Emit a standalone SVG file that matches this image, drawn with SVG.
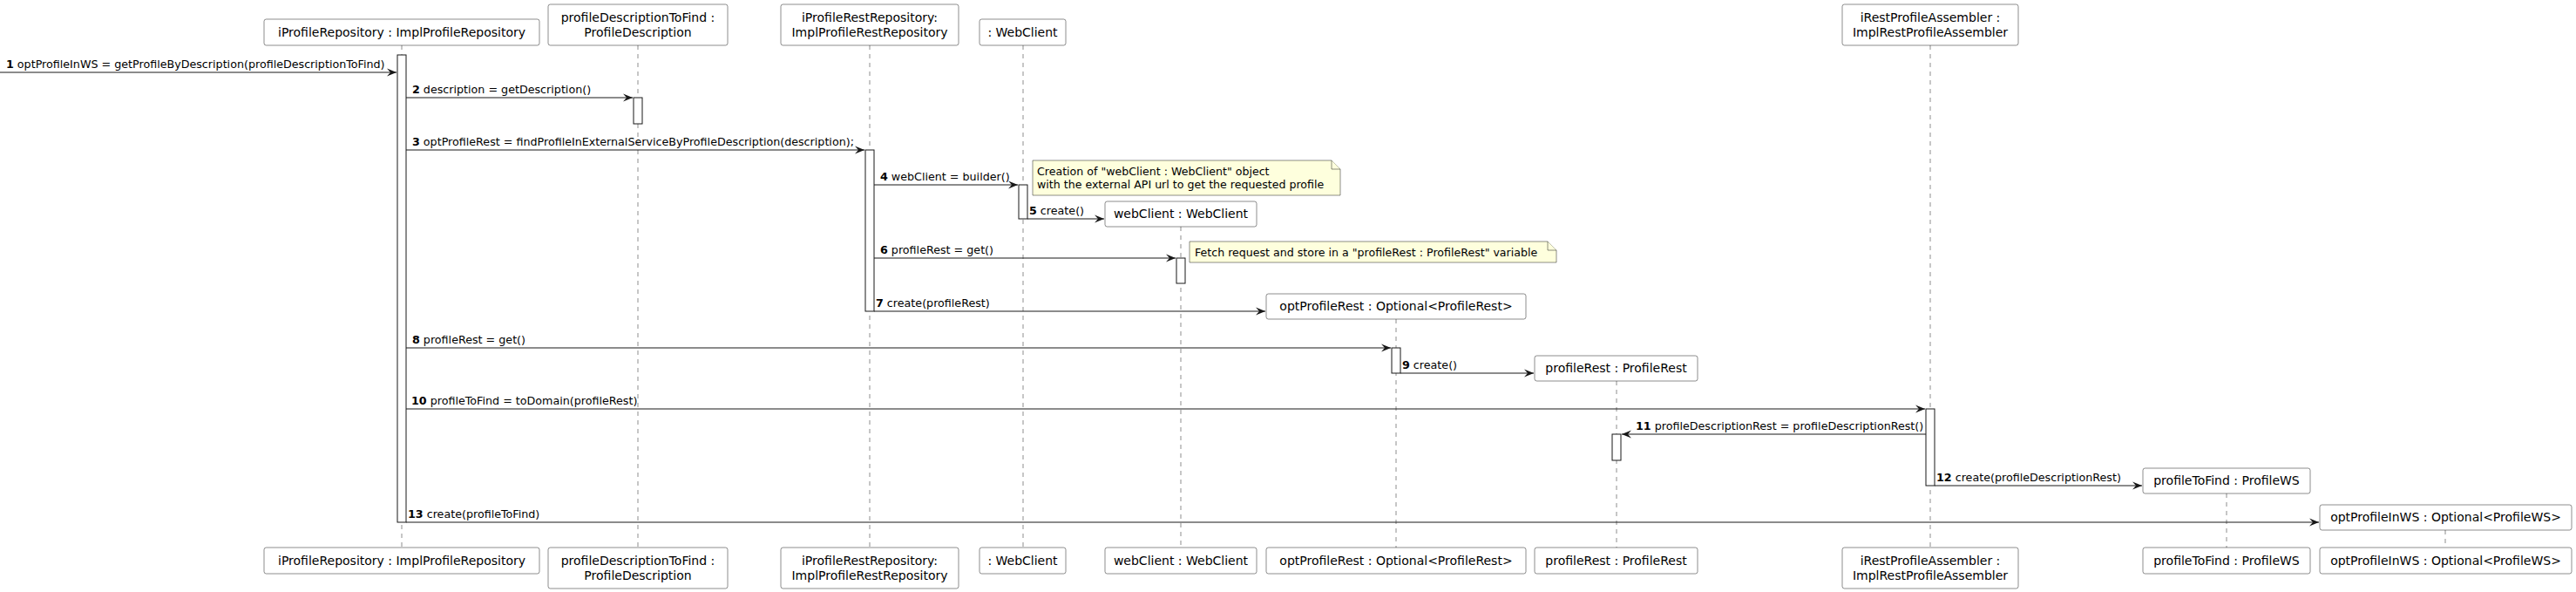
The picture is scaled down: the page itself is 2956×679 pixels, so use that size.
<svg xmlns="http://www.w3.org/2000/svg" width="2956" height="679" viewBox="0 0 2956 679">
<style>
text{font-family:"DejaVu Sans","Liberation Sans",sans-serif;fill:#000}
.p{font-size:14px;text-anchor:middle}
.m{font-size:12.7px}
.n{font-size:12.6px}
.box{fill:#fff;stroke:#181818;stroke-width:0.5}
.life{stroke:#181818;stroke-width:0.5;stroke-dasharray:5,5;fill:none}
.act{fill:#fff;stroke:#181818;stroke-width:1}
.msg{stroke:#181818;stroke-width:1;fill:none;marker-end:url(#ah)}
.note{fill:#FEFFDD;stroke:#181818;stroke-width:0.5}
.b{font-weight:bold}
</style>
<defs>
<marker id="ah" markerWidth="12" markerHeight="10" refX="11" refY="5" orient="auto" markerUnits="userSpaceOnUse"><path d="M0,0.5 L11,5 L0,9.5 L4,5 Z" fill="#181818"/></marker>
</defs>
<rect width="2956" height="679" fill="#fff"/>

<g id="iProfileRepository">
<line class="life" x1="461" y1="52" x2="461" y2="628"/>
<rect class="box" x="303" y="22" width="316" height="30" rx="2.5"/>
<text class="p" x="461" y="42">iProfileRepository : ImplProfileRepository</text>
<rect class="box" x="303" y="628" width="316" height="30" rx="2.5"/>
<text class="p" x="461" y="648">iProfileRepository : ImplProfileRepository</text>
<rect class="act" x="456" y="63" width="10" height="536"/>
</g>

<g id="profileDescriptionToFind">
<line class="life" x1="732" y1="52" x2="732" y2="628"/>
<rect class="box" x="629" y="5" width="206" height="47" rx="2.5"/>
<text class="p" x="732" y="25">profileDescriptionToFind :</text>
<text class="p" x="732" y="42">ProfileDescription</text>
<rect class="box" x="629" y="628" width="206" height="47" rx="2.5"/>
<text class="p" x="732" y="648">profileDescriptionToFind :</text>
<text class="p" x="732" y="665">ProfileDescription</text>
<rect class="act" x="727" y="112" width="10" height="30"/>
</g>

<g id="iProfileRestRepository">
<line class="life" x1="998" y1="52" x2="998" y2="628"/>
<rect class="box" x="896" y="5" width="204" height="47" rx="2.5"/>
<text class="p" x="998" y="25">iProfileRestRepository:</text>
<text class="p" x="998" y="42">ImplProfileRestRepository</text>
<rect class="box" x="896" y="628" width="204" height="47" rx="2.5"/>
<text class="p" x="998" y="648">iProfileRestRepository:</text>
<text class="p" x="998" y="665">ImplProfileRestRepository</text>
<rect class="act" x="993" y="172" width="10" height="185"/>
</g>

<g id="WebClientClass">
<line class="life" x1="1174" y1="52" x2="1174" y2="628"/>
<rect class="box" x="1124" y="22" width="99" height="30" rx="2.5"/>
<text class="p" x="1173.5" y="42">: WebClient</text>
<rect class="box" x="1124" y="628" width="99" height="30" rx="2.5"/>
<text class="p" x="1173.5" y="648">: WebClient</text>
<rect class="act" x="1169" y="212" width="10" height="39"/>
</g>

<g id="webClient">
<line class="life" x1="1355" y1="260" x2="1355" y2="628"/>
<rect class="box" x="1268" y="231" width="174" height="29" rx="2.5"/>
<text class="p" x="1355" y="250">webClient : WebClient</text>
<rect class="box" x="1268" y="628" width="174" height="30" rx="2.5"/>
<text class="p" x="1355" y="648">webClient : WebClient</text>
<rect class="act" x="1350" y="296" width="10" height="29"/>
</g>

<g id="optProfileRest">
<line class="life" x1="1602" y1="366" x2="1602" y2="628"/>
<rect class="box" x="1453" y="337" width="298" height="29" rx="2.5"/>
<text class="p" x="1602" y="356">optProfileRest : Optional&lt;ProfileRest&gt;</text>
<rect class="box" x="1453" y="628" width="298" height="30" rx="2.5"/>
<text class="p" x="1602" y="648">optProfileRest : Optional&lt;ProfileRest&gt;</text>
<rect class="act" x="1597" y="399" width="10" height="29"/>
</g>

<g id="profileRest">
<line class="life" x1="1855" y1="437" x2="1855" y2="628"/>
<rect class="box" x="1761" y="408" width="187" height="29" rx="2.5"/>
<text class="p" x="1854.5" y="427">profileRest : ProfileRest</text>
<rect class="box" x="1761" y="628" width="187" height="30" rx="2.5"/>
<text class="p" x="1854.5" y="648">profileRest : ProfileRest</text>
<rect class="act" x="1850" y="498" width="10" height="30"/>
</g>

<g id="iRestProfileAssembler">
<line class="life" x1="2215" y1="52" x2="2215" y2="628"/>
<rect class="box" x="2114" y="5" width="202" height="47" rx="2.5"/>
<text class="p" x="2215" y="25">iRestProfileAssembler :</text>
<text class="p" x="2215" y="42">ImplRestProfileAssembler</text>
<rect class="box" x="2114" y="628" width="202" height="47" rx="2.5"/>
<text class="p" x="2215" y="648">iRestProfileAssembler :</text>
<text class="p" x="2215" y="665">ImplRestProfileAssembler</text>
<rect class="act" x="2210" y="469" width="10" height="88"/>
</g>

<g id="profileToFind">
<line class="life" x1="2555" y1="566" x2="2555" y2="628"/>
<rect class="box" x="2459" y="537" width="192" height="29" rx="2.5"/>
<text class="p" x="2555" y="556">profileToFind : ProfileWS</text>
<rect class="box" x="2459" y="628" width="192" height="30" rx="2.5"/>
<text class="p" x="2555" y="648">profileToFind : ProfileWS</text>
</g>

<g id="optProfileInWS">
<line class="life" x1="2806" y1="608" x2="2806" y2="628"/>
<rect class="box" x="2662" y="579" width="289" height="29" rx="2.5"/>
<text class="p" x="2806.5" y="598">optProfileInWS : Optional&lt;ProfileWS&gt;</text>
<rect class="box" x="2662" y="628" width="289" height="30" rx="2.5"/>
<text class="p" x="2806.5" y="648">optProfileInWS : Optional&lt;ProfileWS&gt;</text>
</g>

<g id="note1">
<path class="note" d="M1185,184 L1528,184 L1538,194 L1538,224 L1185,224 Z"/>
<path class="note" d="M1528,184 L1528,194 L1538,194"/>
<text class="n" x="1190" y="201">Creation of "webClient : WebClient" object</text>
<text class="n" x="1190" y="216">with the external API url to get the requested profile</text>
</g>

<g id="note2">
<path class="note" d="M1365,277 L1776,277 L1786,287 L1786,301 L1365,301 Z"/>
<path class="note" d="M1776,277 L1776,287 L1786,287"/>
<text class="n" x="1371" y="294">Fetch request and store in a "profileRest : ProfileRest" variable</text>
</g>

<g id="connectors">
<line class="msg" x1="0" y1="83" x2="455" y2="83"/>
<text class="m" x="7" y="78"><tspan class="b">1</tspan> optProfileInWS = getProfileByDescription(profileDescriptionToFind)</text>
<line class="msg" x1="466" y1="112" x2="726" y2="112"/>
<text class="m" x="473" y="107"><tspan class="b">2</tspan> description = getDescription()</text>
<line class="msg" x1="466" y1="172" x2="992" y2="172"/>
<text class="m" x="473" y="167"><tspan class="b">3</tspan> optProfileRest = findProfileInExternalServiceByProfileDescription(description);</text>
<line class="msg" x1="1003" y1="212" x2="1168" y2="212"/>
<text class="m" x="1010" y="207"><tspan class="b">4</tspan> webClient = builder()</text>
<line class="msg" x1="1179" y1="251" x2="1267" y2="251"/>
<text class="m" x="1181" y="246"><tspan class="b">5</tspan> create()</text>
<line class="msg" x1="1003" y1="296" x2="1349" y2="296"/>
<text class="m" x="1010" y="291"><tspan class="b">6</tspan> profileRest = get()</text>
<line class="msg" x1="1003" y1="357" x2="1452" y2="357"/>
<text class="m" x="1005" y="352"><tspan class="b">7</tspan> create(profileRest)</text>
<line class="msg" x1="466" y1="399" x2="1596" y2="399"/>
<text class="m" x="473" y="394"><tspan class="b">8</tspan> profileRest = get()</text>
<line class="msg" x1="1607" y1="428" x2="1760" y2="428"/>
<text class="m" x="1609" y="423"><tspan class="b">9</tspan> create()</text>
<line class="msg" x1="466" y1="469" x2="2209" y2="469"/>
<text class="m" x="472" y="464"><tspan class="b">10</tspan> profileToFind = toDomain(profileRest)</text>
<line class="msg" x1="2210" y1="498" x2="1861" y2="498"/>
<text class="m" x="1877" y="493"><tspan class="b">11</tspan> profileDescriptionRest = profileDescriptionRest()</text>
<line class="msg" x1="2220" y1="557" x2="2458" y2="557"/>
<text class="m" x="2222" y="552"><tspan class="b">12</tspan> create(profileDescriptionRest)</text>
<line class="msg" x1="466" y1="599" x2="2661" y2="599"/>
<text class="m" x="468" y="594"><tspan class="b">13</tspan> create(profileToFind)</text>
</g>
</svg>
